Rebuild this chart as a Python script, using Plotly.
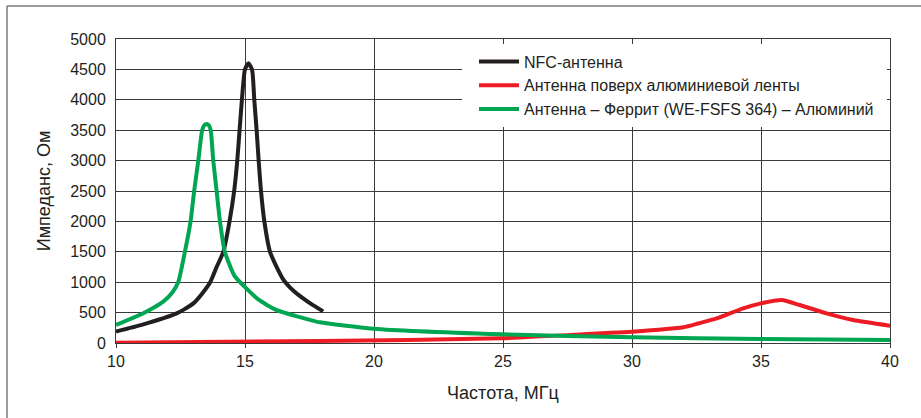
import plotly.graph_objects as go

# ---- data ----
nfc_f = [10, 11.06, 12.35, 12.61, 13.0, 13.35, 13.65, 13.9, 14.16, 14.4, 14.58, 14.7, 14.79, 14.88, 15.0, 15.13,
         15.27, 15.36, 15.45, 15.53, 15.62, 15.75, 15.97, 16.46, 16.9, 17.5, 18.03]
nfc_z = [190, 307, 488, 545, 652, 820, 1000, 1250, 1500, 2000, 2500, 3000, 3500, 4000, 4500, 4600,
         4500, 4000, 3500, 3000, 2500, 2000, 1500, 1060, 850, 660, 520]

alu_f = [10, 17.9, 24.95, 28.76, 30.0, 31.99, 32.6, 33.28, 34.31, 35.0, 35.8, 36.5, 37.54, 38.57, 40]
alu_z = [5, 33, 77, 160, 186, 258, 325, 405, 570, 652, 707, 625, 488, 378, 285]

fer_f = [10, 11.06, 11.83, 12.16, 12.41, 12.67, 12.89, 13.03, 13.19, 13.34, 13.42, 13.51, 13.6, 13.67, 13.77,
         13.90, 14.03, 14.22, 14.6, 15.0, 15.5, 16.23, 17.52, 17.9, 19.97, 24.95, 30.04, 35, 40]
fer_z = [296, 490, 680, 817, 1000, 1500, 2000, 2500, 3000, 3500, 3580, 3600, 3580, 3500, 3000,
         2500, 2000, 1500, 1100, 920, 720, 540, 380, 340, 235, 143, 94, 66, 50]

names = ["NFC-антенна",
         "Антенна поверх алюминиевой ленты",
         "Антенна – Феррит (WE-FSFS 364) – Алюминий"]
colors = ["#231f20", "#ed1c24", "#00a651"]

x_ticks = [10, 15, 20, 25, 30, 35, 40]
y_ticks = [0, 500, 1000, 1500, 2000, 2500, 3000, 3500, 4000, 4500, 5000]

FONT = "Liberation Sans, Arial, Helvetica, sans-serif"
GRID = "#3a3a3a"

fig = go.Figure()
for fx, fz, nm, c in [(nfc_f, nfc_z, names[0], colors[0]),
                      (alu_f, alu_z, names[1], colors[1]),
                      (fer_f, fer_z, names[2], colors[2])]:
    fig.add_trace(go.Scatter(x=fx, y=fz, name=nm, mode="lines",
                             line=dict(color=c, width=4, shape="spline", smoothing=0.6)))

L, R, T, B = 116, 31, 39, 75
W, H = 921, 418
pw, ph = W - L - R, H - T - B

def px2paper_x(px):
    return (px - L) / pw

def px2paper_y(py):
    return (H - B - py) / ph

shapes = [
    # white box behind legend (covers grid)
    dict(type="rect", xref="paper", yref="paper",
         x0=px2paper_x(462), x1=px2paper_x(887), y0=px2paper_y(127), y1=px2paper_y(44),
         fillcolor="white", line=dict(width=0), layer="above"),
    # outer frame (left and top)
    dict(type="line", xref="paper", yref="paper",
         x0=px2paper_x(7), x1=px2paper_x(7), y0=px2paper_y(430), y1=px2paper_y(6),
         line=dict(color="#7a7a7a", width=1.5)),
    dict(type="line", xref="paper", yref="paper",
         x0=px2paper_x(7), x1=px2paper_x(940), y0=px2paper_y(6), y1=px2paper_y(6),
         line=dict(color="#7a7a7a", width=1.5)),
]

fig.update_layout(
    width=W, height=H,
    margin=dict(l=L, r=R, t=T, b=B, autoexpand=False),
    paper_bgcolor="white", plot_bgcolor="white",
    font=dict(family=FONT, size=16, color="#231f20"),
    showlegend=True,
    legend=dict(x=px2paper_x(474), y=px2paper_y(44.5), xanchor="left", yanchor="top",
                bgcolor="rgba(0,0,0,0)", borderwidth=0,
                font=dict(family=FONT, size=16, color="#231f20"),
                itemwidth=40, tracegroupgap=0),
    shapes=shapes,
    xaxis=dict(range=[10, 40], tickvals=x_ticks, ticktext=[str(v) for v in x_ticks],
               showgrid=True, gridcolor=GRID, gridwidth=1,
               showline=True, linecolor=GRID, linewidth=1, mirror=True,
               ticks="outside", ticklen=4, tickcolor=GRID,
               zeroline=False, tickfont=dict(size=16),
               title=dict(text="Частота, МГц", font=dict(size=18), standoff=17)),
    yaxis=dict(range=[0, 5000], tickvals=y_ticks, ticktext=[str(v) for v in y_ticks],
               showgrid=True, gridcolor=GRID, gridwidth=1,
               showline=True, linecolor=GRID, linewidth=1, mirror=True,
               ticks="", zeroline=False, tickfont=dict(size=16),
               ticklabelstandoff=6,
               title=dict(text="Импеданс, Ом", font=dict(size=18), standoff=14)),
)

fig.write_html("out.html", config={"displayModeBar": False},
               post_script="document.body.style.margin='0';document.body.style.padding='0';")
